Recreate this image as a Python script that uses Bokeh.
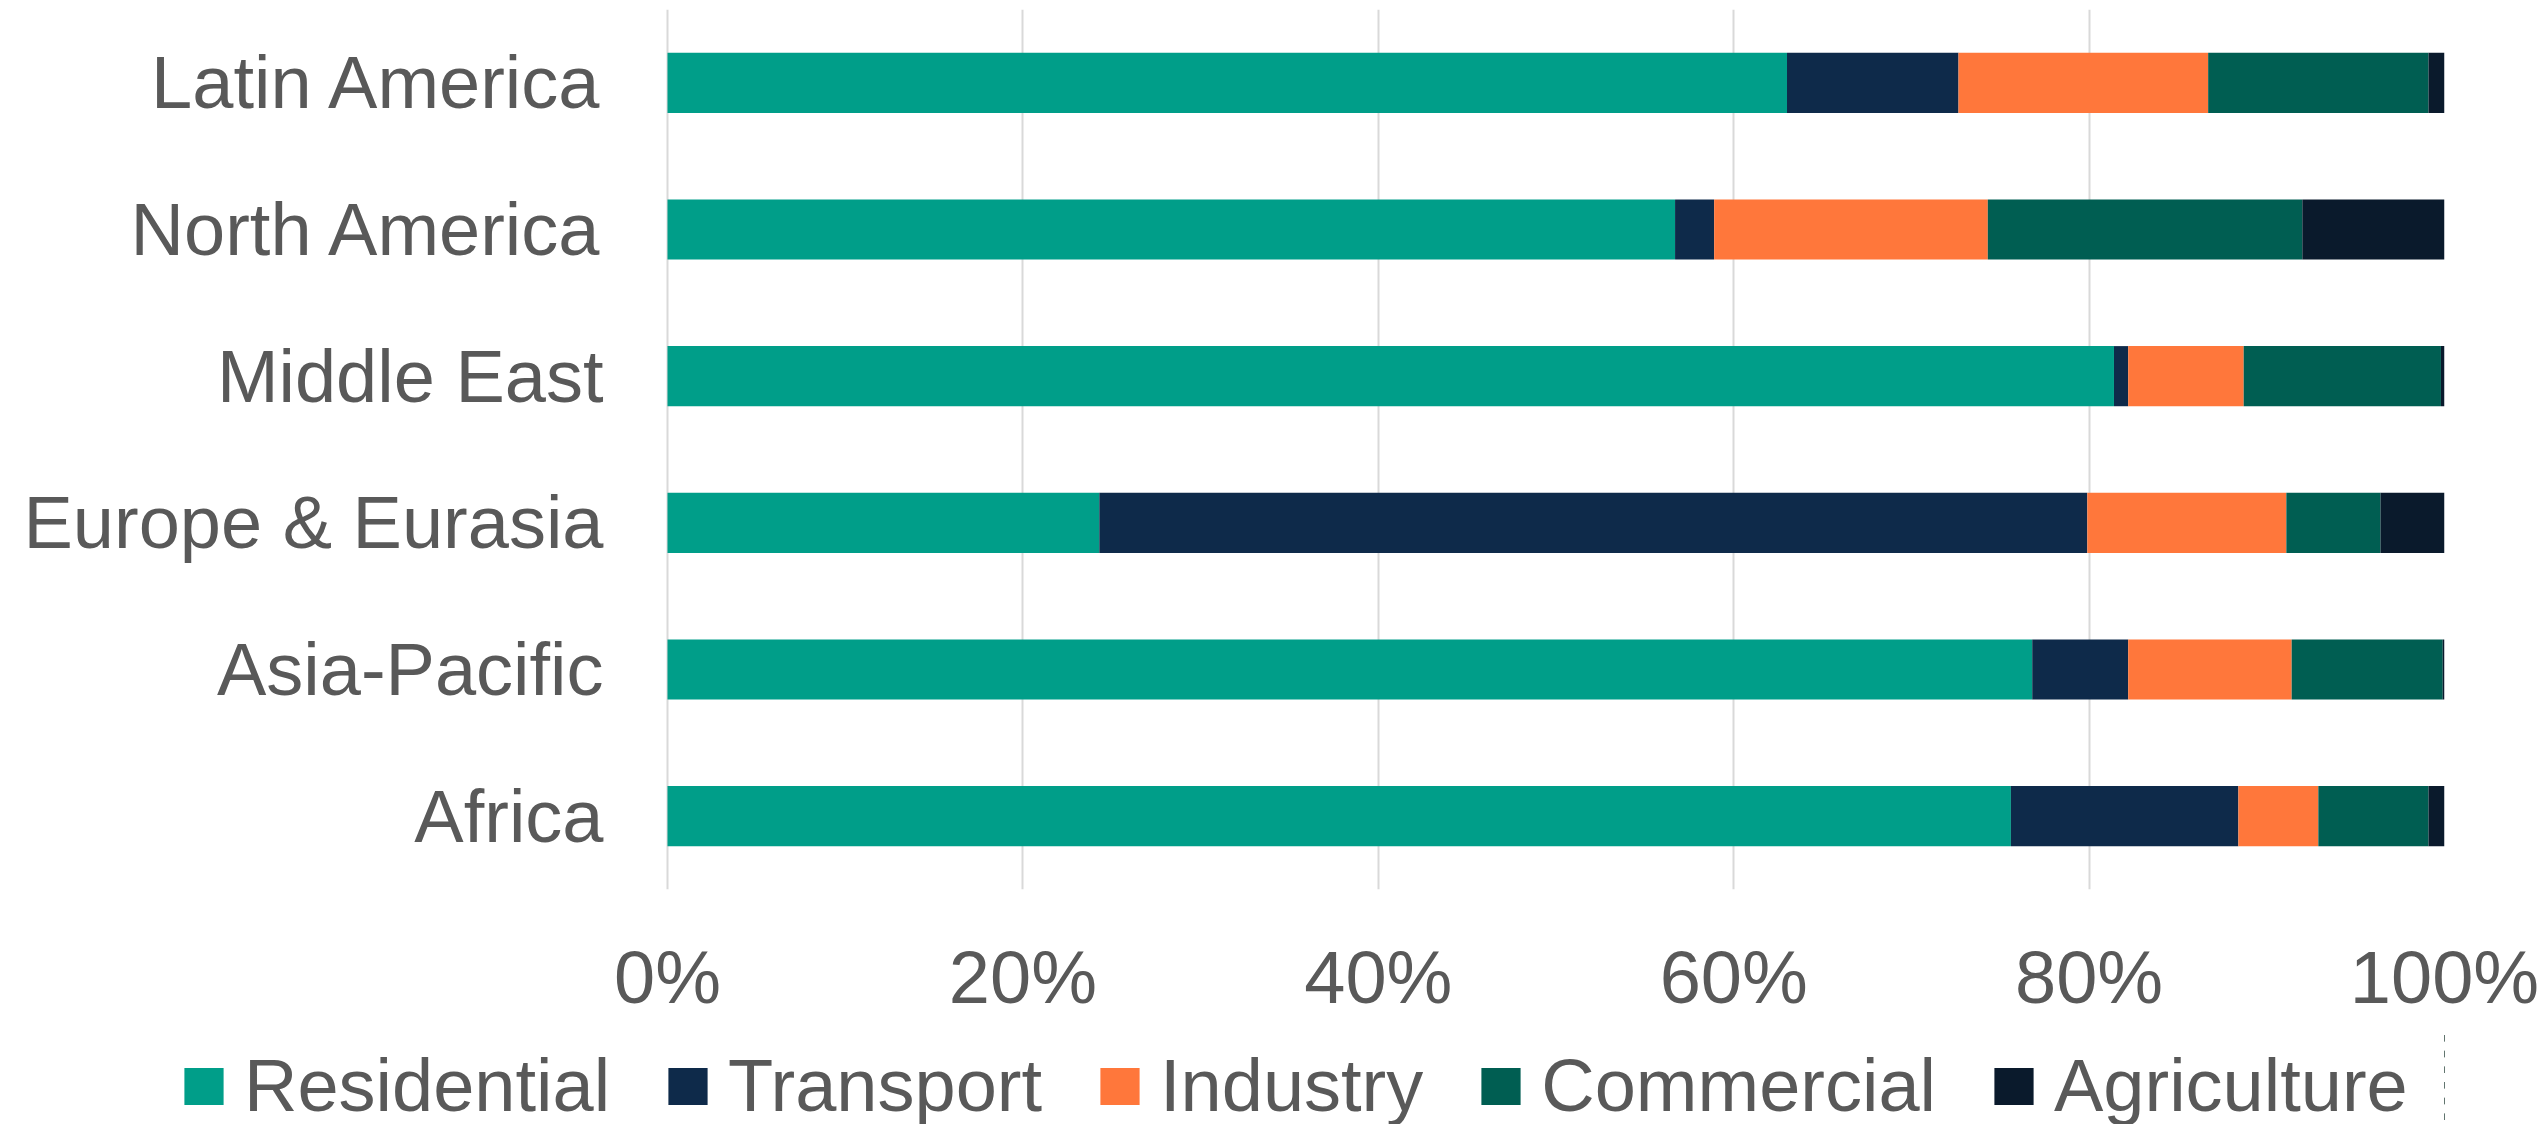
from bokeh.plotting import figure
from bokeh.layouts import column
from bokeh.models import Range1d, FactorRange, Legend, LegendItem, FixedTicker, Grid
from bokeh.embed import file_html
from bokeh.resources import INLINE

regions = ["Africa", "Asia-Pacific", "Europe & Eurasia", "Middle East", "North America", "Latin America"]
sectors = ["Residential", "Transport", "Industry", "Commercial", "Agriculture"]
residential = [75.6, 76.8, 24.3, 81.4, 56.7, 63.0]
transport = [12.8, 5.4, 55.6, 0.8, 2.2, 9.65]
industry = [4.5, 9.2, 11.2, 6.5, 15.4, 14.05]
commercial = [6.2, 8.5, 5.3, 11.1, 17.7, 12.4]
agriculture = [0.9, 0.1, 3.6, 0.2, 8.0, 0.9]
tick_values = [0, 20, 40, 60, 80, 100]
tick_labels = ["0%", "20%", "40%", "60%", "80%", "100%"]
colors = ["#009E89", "#0E2A4A", "#FF773B", "#005E52", "#0A1A2C"]

data = {"region": regions, "Residential": residential, "Transport": transport,
        "Industry": industry, "Commercial": commercial, "Agriculture": agriculture}

FONT = "Liberation Sans"
TXT = "#595959"

# layout (pixels)
W, H = 2542, 1124
MAIN_H = 1030
FRAME_LEFT = 179             # frames start where the legend starts
ZERO_X, FULL_X = 667, 2444   # pixels of the 0% and 100% gridlines
TOP, BOTTOM = 9, 889         # frame top / bottom
x_start = -(ZERO_X - FRAME_LEFT) * 100 / (FULL_X - ZERO_X)

p = figure(width=W, height=MAIN_H, y_range=FactorRange(*regions, range_padding=0),
           x_range=Range1d(x_start, 100), output_backend="svg", toolbar_location=None,
           min_border_left=FRAME_LEFT, min_border_right=W - FULL_X, min_border_top=TOP,
           min_border_bottom=MAIN_H - BOTTOM)
p.outline_line_color = None

p.hbar_stack(sectors, y="region", height=0.41, color=colors, source=data, line_color=None)

p.xaxis.ticker = FixedTicker(ticks=tick_values)
p.xaxis.major_label_overrides = {v: l for v, l in zip(tick_values, tick_labels)}
for ax in (p.xaxis[0], p.yaxis[0]):
    ax.axis_line_color = None
    ax.major_tick_line_color = None
    ax.minor_tick_line_color = None
    ax.major_tick_out = 0
    ax.major_tick_in = 0
    ax.major_label_text_font = FONT
    ax.major_label_text_font_size = "74px"
    ax.major_label_text_color = TXT
p.xaxis.major_label_standoff = 46
p.yaxis.major_label_standoff = -(600 - FRAME_LEFT) - 3

p.xgrid.ticker = FixedTicker(ticks=tick_values)
p.xgrid.grid_line_color = "#D9D9D9"
p.xgrid.grid_line_width = 2
p.ygrid.grid_line_color = None

# legend strip: a second figure whose stacked bars lie outside its visible x range
leg = figure(width=W, height=H - MAIN_H, y_range=FactorRange(*regions, range_padding=0),
             x_range=Range1d(-1100, -1000), output_backend="svg", toolbar_location=None,
             x_axis_location=None, y_axis_location=None,
             min_border_left=FRAME_LEFT, min_border_right=W - FULL_X,
             min_border_top=0, min_border_bottom=0)
leg.outline_line_color = None
leg.center = [c for c in leg.center if not isinstance(c, Grid)]
for g in leg.select(type=Grid):
    g.grid_line_color = None
    g.visible = False
leg_renderers = leg.hbar_stack(sectors, y="region", height=0.41, color=colors,
                               source=data, line_color=None)

legend = Legend(items=[LegendItem(label=s, renderers=[r]) for s, r in zip(sectors, leg_renderers)],
                orientation="horizontal", ncols=5, nrows=1, location=(0, -4),
                glyph_width=49, glyph_height=46, label_standoff=16, spacing=53,
                padding=0, margin=0, border_line_color=None, background_fill_alpha=0,
                label_text_font=FONT, label_text_font_size="74px", label_text_color=TXT)
leg.add_layout(legend, "center")

layout = column(p, leg, spacing=0)
open("out.html", "w").write(file_html(layout, INLINE))
